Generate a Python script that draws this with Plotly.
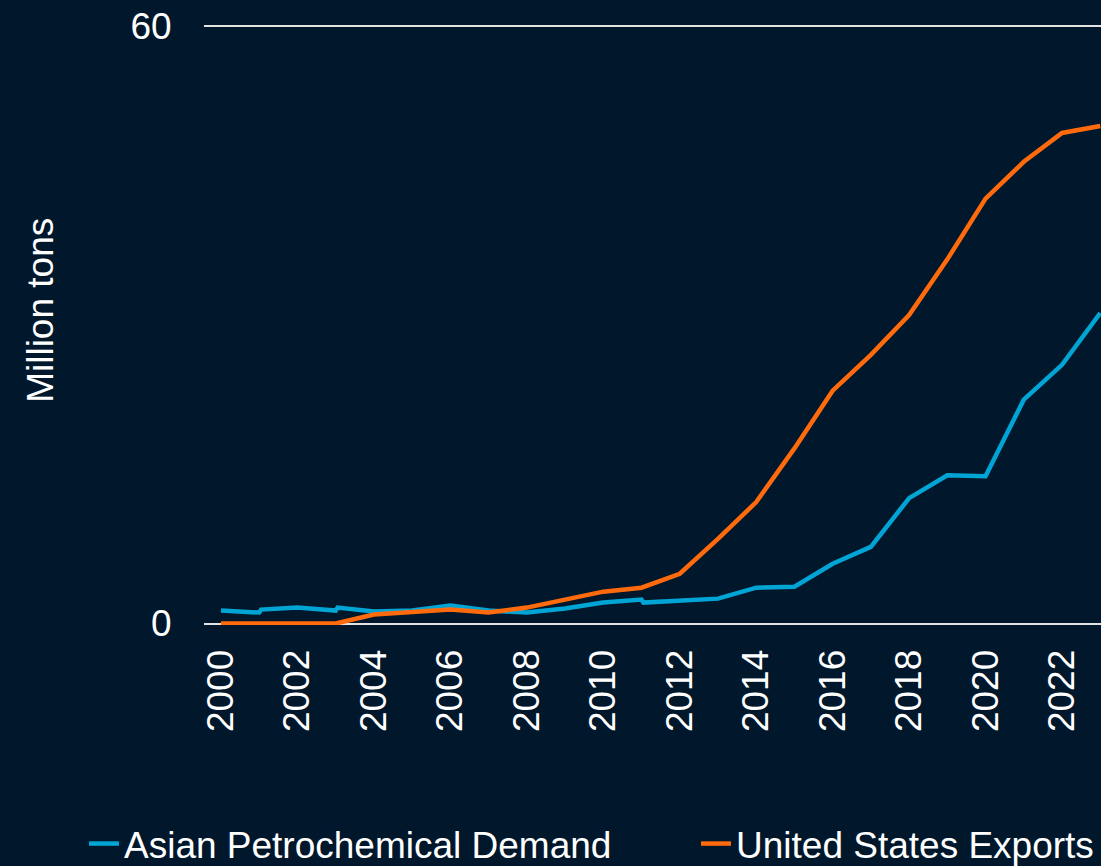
import plotly.graph_objects as go

# Data (million tons)
asia_years = [2000, 2001, 2001.05, 2002, 2003, 2003.05, 2004, 2005, 2006, 2007, 2008, 2009,
              2010, 2011, 2011.05, 2012, 2013, 2014, 2015, 2016, 2017, 2018, 2019, 2020,
              2021, 2022, 2023]
asia_demand = [1.3, 1.1, 1.4, 1.6, 1.3, 1.6, 1.2, 1.3, 1.8, 1.3, 1.1, 1.5,
               2.1, 2.4, 2.1, 2.3, 2.5, 3.6, 3.7, 6.0, 7.7, 12.6, 14.9, 14.8,
               22.5, 26.0, 31.2]

us_years = [2000, 2001, 2002, 2003, 2004, 2005, 2006, 2007, 2008, 2009, 2010, 2011,
            2012, 2013, 2014, 2015, 2016, 2017, 2018, 2019, 2020, 2021, 2022, 2023]
us_exports = [0.0, 0.0, 0.0, 0.0, 0.9, 1.2, 1.4, 1.1, 1.6, 2.4, 3.2, 3.6,
              5.0, 8.5, 12.2, 17.6, 23.4, 27.0, 31.0, 36.6, 42.7, 46.4, 49.3, 50.0]

x_ticks = list(range(2000, 2024, 2))
y_ticks = [0, 60]

BG = "#01172B"
BLUE = "#00A5D5"
ORANGE = "#FF6A0D"
FONT = "Liberation Sans, Arial, sans-serif"
FS = 37

fig = go.Figure()
fig.add_trace(go.Scatter(x=asia_years, y=asia_demand, mode="lines",
                         name="Asian Petrochemical Demand", legend="legend",
                         line=dict(color=BLUE, width=4.5)))
fig.add_trace(go.Scatter(x=us_years, y=us_exports, mode="lines",
                         name="United States Exports", legend="legend2",
                         line=dict(color=ORANGE, width=4.5)))

legend_common = dict(orientation="h", xref="container", yref="container",
                     xanchor="left", yanchor="middle", y=1 - 844 / 866,
                     font=dict(size=FS, color="white", family=FONT),
                     bgcolor="rgba(0,0,0,0)", borderwidth=0)

fig.update_layout(
    template="none",
    width=1101, height=866,
    paper_bgcolor=BG, plot_bgcolor=BG,
    font=dict(family=FONT, size=FS, color="white"),
    margin=dict(l=204, r=0, t=25, b=241, pad=0),
    showlegend=True,
    legend=dict(x=84 / 1101, **legend_common),
    legend2=dict(x=696 / 1101, **legend_common),
    annotations=[dict(text="Million tons", textangle=-90, xref="paper", yref="paper",
                      x=-0.183, y=0.525, xanchor="center", yanchor="middle",
                      showarrow=False, font=dict(size=FS, color="white"))],
)

fig.update_xaxes(range=[1999.555, 2023.02], tickvals=x_ticks, tickangle=-90,
                 showgrid=False, zeroline=False, showline=False, automargin=False,
                 ticks="outside", ticklen=9, tickcolor="rgba(0,0,0,0)",
                 tickfont=dict(size=FS, color="white"))
fig.update_yaxes(range=[-0.15, 60.15], tickvals=y_ticks, showgrid=True,
                 gridcolor="#E3E3E3", gridwidth=2, zeroline=False, showline=False,
                 automargin=False,
                 ticks="outside", ticklen=24, tickcolor="rgba(0,0,0,0)",
                 tickfont=dict(size=FS, color="white"))

fig.write_html("out.html", config={"displayModeBar": False},
               post_script="document.body.style.margin='0';document.body.style.overflow='hidden';")
